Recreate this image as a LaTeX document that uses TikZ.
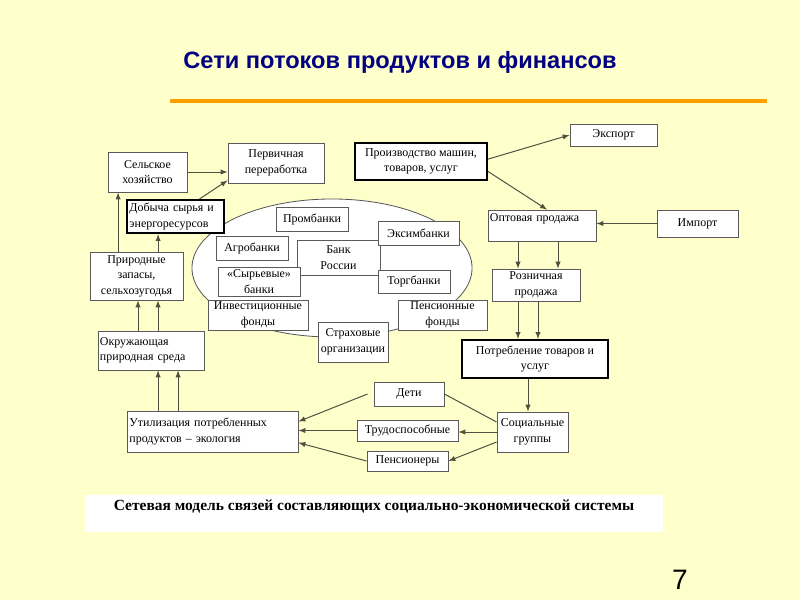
\documentclass[tikz,border=0pt]{standalone}
\usepackage{fontspec}
\setmainfont{Liberation Serif}
\newfontfamily\headfont{Liberation Sans}
\usetikzlibrary{arrows}
\definecolor{paper}{RGB}{255,255,204}
\definecolor{titleblue}{RGB}{0,0,128}
\definecolor{rulecolor}{RGB}{255,160,0}
\definecolor{linegray}{RGB}{80,80,64}
\definecolor{boxgray}{RGB}{90,90,90}

\begin{document}
\begin{tikzpicture}[x=0.025cm,y=-0.025cm,
  box/.style={draw=boxgray,fill=white,line width=0.6pt,inner sep=1pt,align=center,font=\fontsize{8.5}{11}\selectfont},
  heavy/.style={box,draw=black,line width=1.5pt},
  flow/.style={draw=linegray,line width=0.7pt,-latex}]
\fill[paper] (0,0) rectangle (800,600);
\useasboundingbox (0,0) rectangle (800,600);

\node[text=titleblue,font=\headfont\bfseries\fontsize{16.8}{20}\selectfont] (title) at (400,62) {Сети потоков продуктов и финансов};
\draw[rulecolor,line width=2.8pt] (170,101) -- (767,101);

% banks
\draw[boxgray,fill=white,line width=0.6pt] (332,268) ellipse [x radius=3.5cm,y radius=1.725cm];
\node[box,minimum width=2.075cm,minimum height=0.875cm] (bankr) at (338.5,257.5) {Банк\\России};
\node[box,minimum width=1.8cm,minimum height=0.6cm] (prom) at (312,219) {Промбанки};
\node[box,minimum width=1.8cm,minimum height=0.6cm] (agro) at (252,248) {Агробанки};
\node[box,minimum width=2.025cm,minimum height=0.6cm] (exim) at (418.5,233) {Эксимбанки};
\node[box,minimum width=1.8cm,minimum height=0.575cm] (torg) at (414,281.5) {Торгбанки};
\node[box,minimum width=2.05cm,minimum height=0.725cm] (syr) at (259,281.5) {«Сырьевые»\\банки};
\node[box,minimum width=2.5cm,minimum height=0.75cm] (invest) at (258,315) {Инвестиционные\\фонды};
\node[box,minimum width=2.225cm,minimum height=0.75cm] (pensf) at (442.5,315) {Пенсионные\\фонды};
\node[box,minimum width=1.75cm,minimum height=1cm] (strah) at (353,342) {Страховые\\организации};

% production
\node[box,minimum width=1.975cm,minimum height=1cm] (selhoz) at (147.5,172) {Сельское\\хозяйство};
\node[box,minimum width=2.4cm,minimum height=1cm] (pererab) at (276,163) {Первичная\\переработка};
\node[heavy,minimum width=2.425cm,minimum height=0.825cm,text width=2.3cm,align=left] (dobycha) at (175.5,216.5) {Добыча сырья и\\энергоресурсов};
\node[heavy,minimum width=3.3cm,minimum height=0.925cm] (proizv) at (421,161.5) {Производство машин,\\товаров, услуг};
\node[box,minimum width=2.175cm,minimum height=0.55cm] (export) at (613.5,135) {Экспорт};
\node[box,minimum width=2.7cm,minimum height=0.775cm,text width=2.6cm,align=left] (opt) at (542,225.5) {Оптовая продажа\\\mbox{}};
\node[box,minimum width=2.025cm,minimum height=0.675cm] (import) at (697.5,223.5) {Импорт};
\node[box,minimum width=2.2cm,minimum height=0.8cm] (rozn) at (536,285) {Розничная\\продажа};
\node[heavy,minimum width=3.65cm,minimum height=0.95cm] (potreb) at (535,359) {Потребление товаров и\\услуг};
\node[box,minimum width=2.325cm,minimum height=1.2cm] (prirod) at (136.5,276) {Природные\\запасы,\\сельхозугодья};
\node[box,minimum width=2.65cm,minimum height=0.975cm,text width=2.55cm,align=left] (okruzh) at (151,350.5) {Окружающая\\природная среда};
\node[box,minimum width=4.275cm,minimum height=1.025cm,text width=4.15cm,align=left] (util) at (212.5,431.5) {Утилизация потребленных\\продуктов -- экология};
\node[box,minimum width=1.75cm,minimum height=0.6cm] (deti) at (409,394) {Дети};
\node[box,minimum width=2.525cm,minimum height=0.525cm] (trud) at (407.5,430.5) {Трудоспособные};
\node[box,minimum width=2.025cm,minimum height=0.5cm] (pens) at (407.5,461) {Пенсионеры};
\node[box,minimum width=1.775cm,minimum height=1cm] (soc) at (532.5,432) {Социальные\\группы};

\draw[flow] (selhoz.east) -- (selhoz.east -| pererab.west);
\draw[flow] ([xshift=0.6cm]dobycha.north) -- ([yshift=0.075cm]pererab.south west);
\draw[flow] ([xshift=-0.46cm]prirod.north) -- ([xshift=-0.46cm]prirod.north |- selhoz.south);
\draw[flow] ([xshift=0.54cm]prirod.north) -- ([xshift=0.54cm]prirod.north |- dobycha.south);
\draw[flow] ([xshift=-0.325cm]okruzh.north) -- ([xshift=-0.325cm]okruzh.north |- prirod.south);
\draw[flow] ([xshift=0.175cm]okruzh.north) -- ([xshift=0.175cm]okruzh.north |- prirod.south);
\draw[flow] ([xshift=-1.36cm]util.north) -- ([xshift=-1.36cm]util.north |- okruzh.south);
\draw[flow] ([xshift=-0.86cm]util.north) -- ([xshift=-0.86cm]util.north |- okruzh.south);
\draw[flow] ([yshift=0.06cm]proizv.east) -- (export.west);
\draw[flow] ([yshift=-0.25cm]proizv.east) -- ([xshift=0.125cm]opt.north);
\draw[flow] (import.west) -- (import.west -| opt.east);
\draw[flow] ([xshift=-0.6cm]opt.south) -- ([xshift=-0.6cm]opt.south |- rozn.north);
\draw[flow] ([xshift=0.4cm]opt.south) -- ([xshift=0.4cm]opt.south |- rozn.north);
\draw[flow] ([xshift=-0.45cm]rozn.south) -- ([xshift=-0.45cm]rozn.south |- potreb.north);
\draw[flow] ([xshift=0.05cm]rozn.south) -- ([xshift=0.05cm]rozn.south |- potreb.north);
\draw[flow] ([xshift=-0.175cm]potreb.south) -- ([xshift=-0.175cm]potreb.south |- soc.north);
\draw[flow] (soc.west) -- (soc.west -| trud.east);
\draw[flow] ([yshift=-0.25cm]soc.west) -- (pens.east);
\draw[draw=linegray,line width=0.7pt] ([yshift=0.25cm]soc.west) -- (deti.east);
\draw[flow] ([xshift=-0.15cm]deti.west) -- ([yshift=0.25cm]util.east);
\draw[flow] (trud.west) -- (trud.west -| util.east);
\draw[flow] (pens.west) -- ([yshift=-0.28cm]util.east);

\node[fill=white,minimum width=14.45cm,minimum height=0.925cm,inner sep=0pt] (caption) at (374,513.5) {};
\node[font=\bfseries\fontsize{11}{13}\selectfont] (captext) at (374,507) {Сетевая модель связей составляющих социально-экономической системы};
\node[font=\headfont\fontsize{20}{24}\selectfont] (pagenum) at (680,580) {7};
\end{tikzpicture}
\end{document}
